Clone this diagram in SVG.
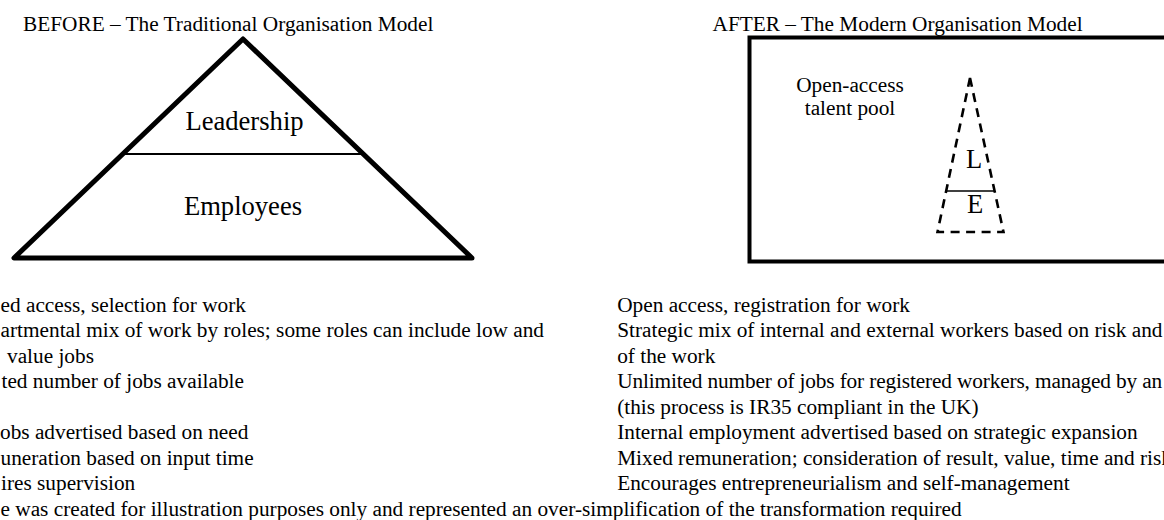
<svg xmlns="http://www.w3.org/2000/svg" width="1164" height="520" viewBox="0 0 1164 520">
<style>
  text { font-family: "Liberation Serif", "Times New Roman", serif; fill: #000; }
  .title { font-size: 21.3px; }
  .body { font-size: 21.3px; }
  .big { font-size: 26.6px; text-anchor: middle; }
  .pool { font-size: 21.3px; text-anchor: middle; }
  .thick { fill: none; stroke: #000; stroke-width: 5; stroke-linejoin: round; }
  .frame { fill: none; stroke: #000; stroke-width: 4; }
  .divider { stroke: #000; stroke-width: 2; fill: none; }
  .dashed { fill: none; stroke: #000; stroke-width: 2.6; stroke-dasharray: 9 6.5; }
</style>
<rect x="0" y="0" width="1164" height="520" fill="#fff"/>

<g id="before-title">
  <text class="title" x="23" y="30.5">BEFORE – The Traditional Organisation Model</text>
</g>

<g id="traditional-pyramid">
  <polygon class="thick" points="243,39 14,258 472,258"/>
  <line class="divider" x1="123" y1="154" x2="363" y2="154"/>
  <text class="big" x="244.5" y="130">Leadership</text>
  <text class="big" x="243" y="215">Employees</text>
</g>

<g id="after-title">
  <text class="title" x="712.5" y="30.5">AFTER – The Modern Organisation Model</text>
</g>

<g id="talent-pool">
  <rect class="frame" x="749.5" y="37.5" width="440" height="224"/>
  <text class="pool" x="850" y="91.7">Open-access</text>
  <text class="pool" x="850" y="115">talent pool</text>
</g>

<g id="modern-pyramid">
  <polygon class="dashed" points="970,78 937.5,232 1003.5,232"/>
  <line x1="946.5" y1="191" x2="994" y2="191" stroke="#000" stroke-width="1.6"/>
  <text class="big" x="974" y="168.3">L</text>
  <text class="big" x="975" y="213.3">E</text>
</g>

<g id="before-list">
  <text class="body" x="0.5" y="311.5">ed access, selection for work</text>
  <text class="body" x="0.5" y="337">artmental mix of work by roles; some roles can include low and</text>
  <text class="body" x="7" y="362.5">value jobs</text>
  <text class="body" x="1.5" y="388">ted number of jobs available</text>
  <text class="body" x="0" y="439">obs advertised based on need</text>
  <text class="body" x="0.5" y="464.5">uneration based on input time</text>
  <text class="body" x="1" y="490">ires supervision</text>
</g>

<g id="after-list">
  <text class="body" x="617.2" y="311.5">Open access, registration for work</text>
  <text class="body" x="617.2" y="337">Strategic mix of internal and external workers based on risk and</text>
  <text class="body" x="617.2" y="362.5">of the work</text>
  <text class="body" x="617.2" y="388" textLength="545" lengthAdjust="spacing">Unlimited number of jobs for registered workers, managed by an</text>
  <text class="body" x="617.2" y="413.5">(this process is IR35 compliant in the UK)</text>
  <text class="body" x="617.2" y="439">Internal employment advertised based on strategic expansion</text>
  <text class="body" x="617.2" y="464.5">Mixed remuneration; consideration of result, value, time and risk</text>
  <text class="body" x="617.2" y="490">Encourages entrepreneurialism and self-management</text>
</g>

<g id="footnote">
  <text class="body" x="0.5" y="515.5">e was created for illustration purposes only and represented an over-simplification of the transformation required</text>
</g>
</svg>
